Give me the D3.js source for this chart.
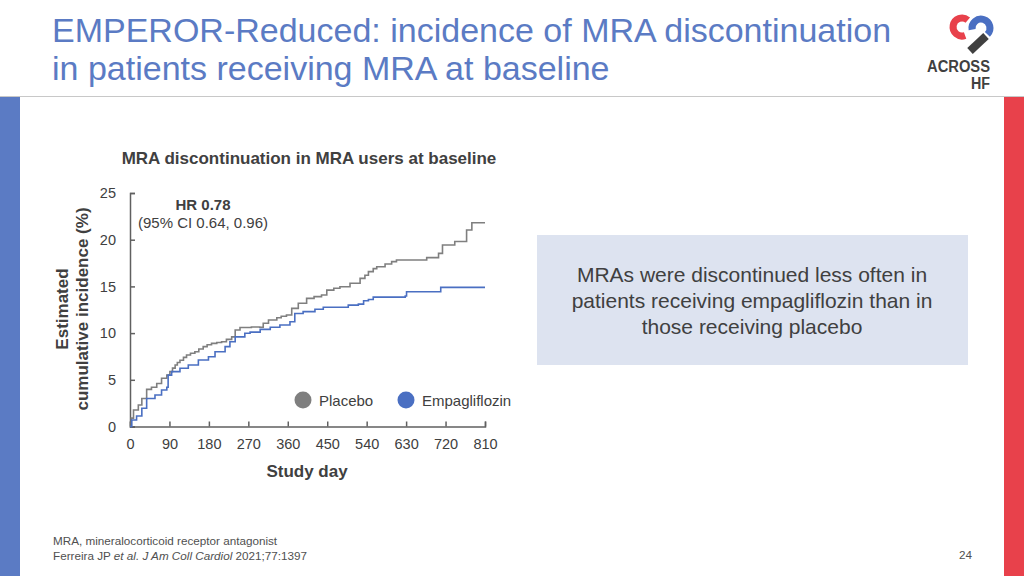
<!DOCTYPE html>
<html><head><meta charset="utf-8">
<script src="https://cdn.jsdelivr.net/npm/d3@7"></script>
<style>body{margin:0;background:#fff}svg{display:block;font-family:"Liberation Sans",Arial,sans-serif}</style>
</head><body>
<svg id="c" width="1024" height="576"></svg>
<script>
const xTicks = [0, 90, 180, 270, 360, 450, 540, 630, 720, 810];
const yTicks = [0, 5, 10, 15, 20, 25];
const seriesNames = ["Placebo", "Empagliflozin"];
const placeboDays = [0, 3, 8, 19, 27, 38, 49, 61, 72, 84, 91, 97, 103, 108, 114, 122, 129, 138, 148, 157, 167, 176, 186, 198, 209, 220, 232, 240, 251, 277, 296, 304, 316, 335, 345, 357, 369, 384, 403, 420, 437, 449, 465, 479, 502, 525, 536, 544, 555, 563, 582, 597, 608, 677, 704, 713, 741, 768, 780, 810];
const placeboVals = [0, 0.9, 1.77, 2.3, 3.0, 3.98, 4.2, 4.6, 5.16, 5.5, 5.87, 6.25, 6.58, 6.85, 7.1, 7.4, 7.65, 7.85, 8.0, 8.3, 8.55, 8.75, 8.9, 9.0, 9.08, 9.33, 9.6, 10.33, 10.6, 10.65, 10.62, 11.05, 11.4, 11.65, 11.8, 11.94, 12.65, 13.2, 13.72, 13.9, 14.08, 14.6, 14.8, 14.97, 15.33, 15.86, 16.2, 16.58, 16.9, 17.1, 17.4, 17.65, 17.83, 18.08, 18.54, 19.43, 19.8, 21.04, 21.82, 21.82];
const empaDays = [0, 4, 15, 27, 38, 57, 72, 84, 87, 95, 114, 133, 156, 179, 194, 217, 228, 240, 262, 274, 297, 320, 342, 365, 376, 395, 422, 441, 479, 498, 521, 533, 544, 555, 628, 631, 709, 810];
const empaVals = [0, 0.7, 1.12, 1.95, 3.0, 3.37, 3.9, 4.2, 5.5, 5.87, 6.23, 6.58, 7.12, 7.47, 8.0, 8.55, 9.08, 9.6, 9.98, 10.1, 10.4, 10.62, 10.87, 11.22, 12.1, 12.3, 12.55, 12.76, 12.76, 13.0, 13.1, 13.47, 13.6, 13.85, 13.97, 14.43, 14.9, 14.9];

const svg = d3.select("#c");
const blue = "#4a6fc2", gray = "#7f7f7f", axisCol = "#606060", txt = "#404040";

// frame
svg.append("line").attr("x1", 0).attr("x2", 1024).attr("y1", 96.5).attr("y2", 96.5).attr("stroke", "#c8c8c8").attr("stroke-width", 1);
svg.append("rect").attr("x", 0).attr("y", 97).attr("width", 20).attr("height", 479).attr("fill", "#5b7bc4");
svg.append("rect").attr("x", 1004).attr("y", 97).attr("width", 20).attr("height", 479).attr("fill", "#e8414b");

// title
const title = svg.append("text").attr("fill", "#5b7bc4").attr("font-size", 34);
title.append("tspan").attr("x", 52).attr("y", 42).text("EMPEROR-Reduced: incidence of MRA discontinuation");
title.append("tspan").attr("x", 52).attr("y", 80).text("in patients receiving MRA at baseline");

// logo
const lg = svg.append("g");
lg.append("path").attr("d", "M967.8,20.1 A9,9 0 1 0 965.1,35.5").attr("fill", "none").attr("stroke", "#e8414b").attr("stroke-width", 7);
lg.append("path").attr("d", "M972.1,29.6 A9,9 0 1 1 987.4,34.4").attr("fill", "none").attr("stroke", "#4a6fc2").attr("stroke-width", 7);
lg.append("path").attr("d", "M986,36 L970,51").attr("stroke", "#404040").attr("stroke-width", 8);
lg.append("text").attr("x", 927).attr("y", 72).attr("font-size", 16).attr("font-weight", "bold").attr("fill", "#404040")
  .attr("textLength", 63).attr("lengthAdjust", "spacingAndGlyphs").text("ACROSS");
lg.append("text").attr("x", 971).attr("y", 89).attr("font-size", 16).attr("font-weight", "bold").attr("fill", "#404040")
  .attr("textLength", 19).attr("lengthAdjust", "spacingAndGlyphs").text("HF");

// chart
const x = d3.scaleLinear().domain([0, 810]).range([130, 485]);
const y = d3.scaleLinear().domain([0, 25]).range([426.5, 193]);

svg.append("text").attr("x", 309).attr("y", 164).attr("text-anchor", "middle").attr("font-size", 17).attr("font-weight", "bold").attr("fill", txt).text("MRA discontinuation in MRA users at baseline");

const xa = svg.append("g").attr("transform", "translate(0,426.5)")
  .call(d3.axisBottom(x).tickValues(xTicks).tickSize(-5).tickPadding(12).tickFormat(d3.format("d")));
const ya = svg.append("g").attr("transform", "translate(130,0)")
  .call(d3.axisLeft(y).tickValues(yTicks).tickSize(-5).tickPadding(14).tickFormat(d3.format("d")));
[xa, ya].forEach(a => {
  a.select(".domain").attr("stroke", axisCol).attr("stroke-width", 1.5);
  a.selectAll(".tick line").attr("stroke", axisCol).attr("stroke-width", 1.5);
  a.selectAll("text").attr("font-size", 14.5).attr("fill", txt).attr("font-family", "Liberation Sans, Arial, sans-serif");
});

const yl = svg.append("text").attr("transform", "translate(68,309) rotate(-90)").attr("text-anchor", "middle").attr("font-size", 17).attr("font-weight", "bold").attr("fill", txt);
yl.append("tspan").attr("x", 0).attr("y", 0).text("Estimated");
yl.append("tspan").attr("x", 0).attr("y", 20).text("cumulative incidence (%)");

svg.append("text").attr("x", 307).attr("y", 477).attr("text-anchor", "middle").attr("font-size", 17).attr("font-weight", "bold").attr("fill", txt).text("Study day");

const line = d3.line().x(d => x(d[0])).y(d => y(d[1])).curve(d3.curveStepAfter);
svg.append("path").datum(placeboDays.map((d, i) => [d, placeboVals[i]])).attr("d", line).attr("fill", "none").attr("stroke", gray).attr("stroke-width", 1.6);
svg.append("path").datum(empaDays.map((d, i) => [d, empaVals[i]])).attr("d", line).attr("fill", "none").attr("stroke", blue).attr("stroke-width", 1.6);

// HR
svg.append("text").attr("x", 203).attr("y", 210).attr("text-anchor", "middle").attr("font-size", 15).attr("font-weight", "bold").attr("fill", txt).text("HR 0.78");
svg.append("text").attr("x", 203).attr("y", 228).attr("text-anchor", "middle").attr("font-size", 15).attr("fill", txt).text("(95% CI 0.64, 0.96)");

// legend
const legX = [303, 406];
const legC = [gray, blue];
seriesNames.forEach((n, i) => {
  svg.append("circle").attr("cx", legX[i]).attr("cy", 400).attr("r", 8.5).attr("fill", legC[i]);
  svg.append("text").attr("x", legX[i] + 16).attr("y", 405.5).attr("font-size", 15).attr("fill", txt).text(n);
});

// box
svg.append("rect").attr("x", 537).attr("y", 235).attr("width", 431).attr("height", 130).attr("fill", "#dde3f0");
const bt = svg.append("text").attr("text-anchor", "middle").attr("font-size", 21).attr("fill", "#404040");
["MRAs were discontinued less often in", "patients receiving empagliflozin than in", "those receiving placebo"].forEach((s, i) => {
  bt.append("tspan").attr("x", 752).attr("y", 282 + i * 26).text(s);
});

// footer
svg.append("text").attr("x", 53).attr("y", 545).attr("font-size", 11.7).attr("fill", "#505050").text("MRA, mineralocorticoid receptor antagonist");
const f2 = svg.append("text").attr("x", 53).attr("y", 560).attr("font-size", 11.7).attr("fill", "#505050");
f2.append("tspan").text("Ferreira JP ");
f2.append("tspan").attr("font-style", "italic").text("et al. J Am Coll Cardiol");
f2.append("tspan").text(" 2021;77:1397");
svg.append("text").attr("x", 972).attr("y", 559).attr("text-anchor", "end").attr("font-size", 11.7).attr("fill", "#505050").text("24");
</script>
</body></html>
